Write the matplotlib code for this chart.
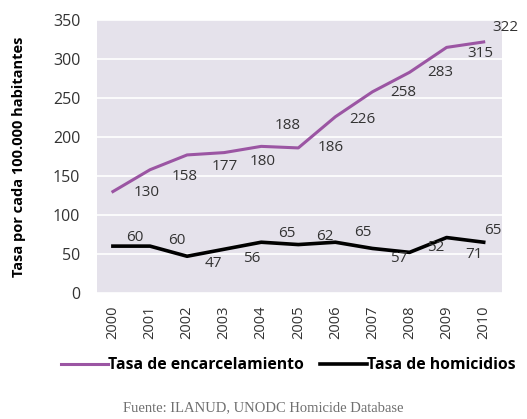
import matplotlib.pyplot as plt

years = ['2000', '2001', '2002', '2003', '2004', '2005', '2006', '2007', '2008', '2009', '2010']
encarcelamiento = [130, 158, 177, 180, 188, 186, 226, 258, 283, 315, 322]
homicidios = [60, 60, 47, 56, 65, 62, 65, 57, 52, 71, 65]

# desplazamiento de las etiquetas (pixeles) respecto a cada punto
off_enc = [(34, -1), (35, -7), (38, -12), (39, -9), (26, 21), (32, 0),
           (27, -3), (31, -1), (31, 0), (34, -6), (22, 14)]
off_hom = [(22, 9), (27, 6), (26, -7), (28, -9), (26, 9), (27, 8),
           (27, 10), (26, -10), (26, 5), (27, -17), (9, 12)]

purple = '#9b55a3'
plt.rcParams['font.family'] = ['Open Sans', 'DejaVu Sans']

fig, ax = plt.subplots(figsize=(5.27, 4.19), dpi=100)
fig.subplots_adjust(left=0.184, right=0.953, top=0.952, bottom=0.301)

x = list(range(len(years)))
ax.set_facecolor('#e5e2eb')
ax.plot(x, encarcelamiento, color=purple, lw=2.2, label='Tasa de encarcelamiento', zorder=3)
ax.plot(x, homicidios, color='black', lw=2.6, label='Tasa de homicidios', zorder=3)

for i, v in enumerate(encarcelamiento):
    ax.annotate(str(v), (x[i], v), xytext=off_enc[i], textcoords='offset pixels',
                ha='center', va='center', fontsize=11, color='#333333', zorder=4)
for i, v in enumerate(homicidios):
    ax.annotate(str(v), (x[i], v), xytext=off_hom[i], textcoords='offset pixels',
                ha='center', va='center', fontsize=11, color='#333333', zorder=4)

ax.set_xlim(-0.43, 10.5)
ax.set_ylim(0, 350)
ax.set_yticks(range(0, 351, 50))
ax.set_xticks(x)
ax.set_xticklabels(years, rotation=90, fontsize=10.5, color='#333333')
ax.tick_params(axis='y', length=0, pad=12, labelsize=11.5, labelcolor='#333333')
ax.tick_params(axis='x', length=0, pad=9)
ax.grid(axis='y', color='white', lw=1.2)
ax.set_axisbelow(True)
for s in ax.spines.values():
    s.set_visible(False)

ax.set_ylabel('Tasa por cada 100.000 habitantes', fontsize=10.5, fontweight='bold')
ax.yaxis.set_label_coords(-0.175, 0.5)

leg = fig.legend(loc='center', bbox_to_anchor=(0.547, 1 - 365 / 419), ncol=2, frameon=False,
                 handlelength=3.0, handletextpad=0.0, columnspacing=1.0,
                 prop={'weight': 'bold', 'size': 11.3})

fig.text(0.5, 1 - 408 / 419, 'Fuente: ILANUD, UNODC Homicide Database', ha='center', va='center',
         fontsize=10.5, color='#707070', family=['Liberation Serif', 'DejaVu Serif'])

fig.savefig('out.png', dpi=100)
